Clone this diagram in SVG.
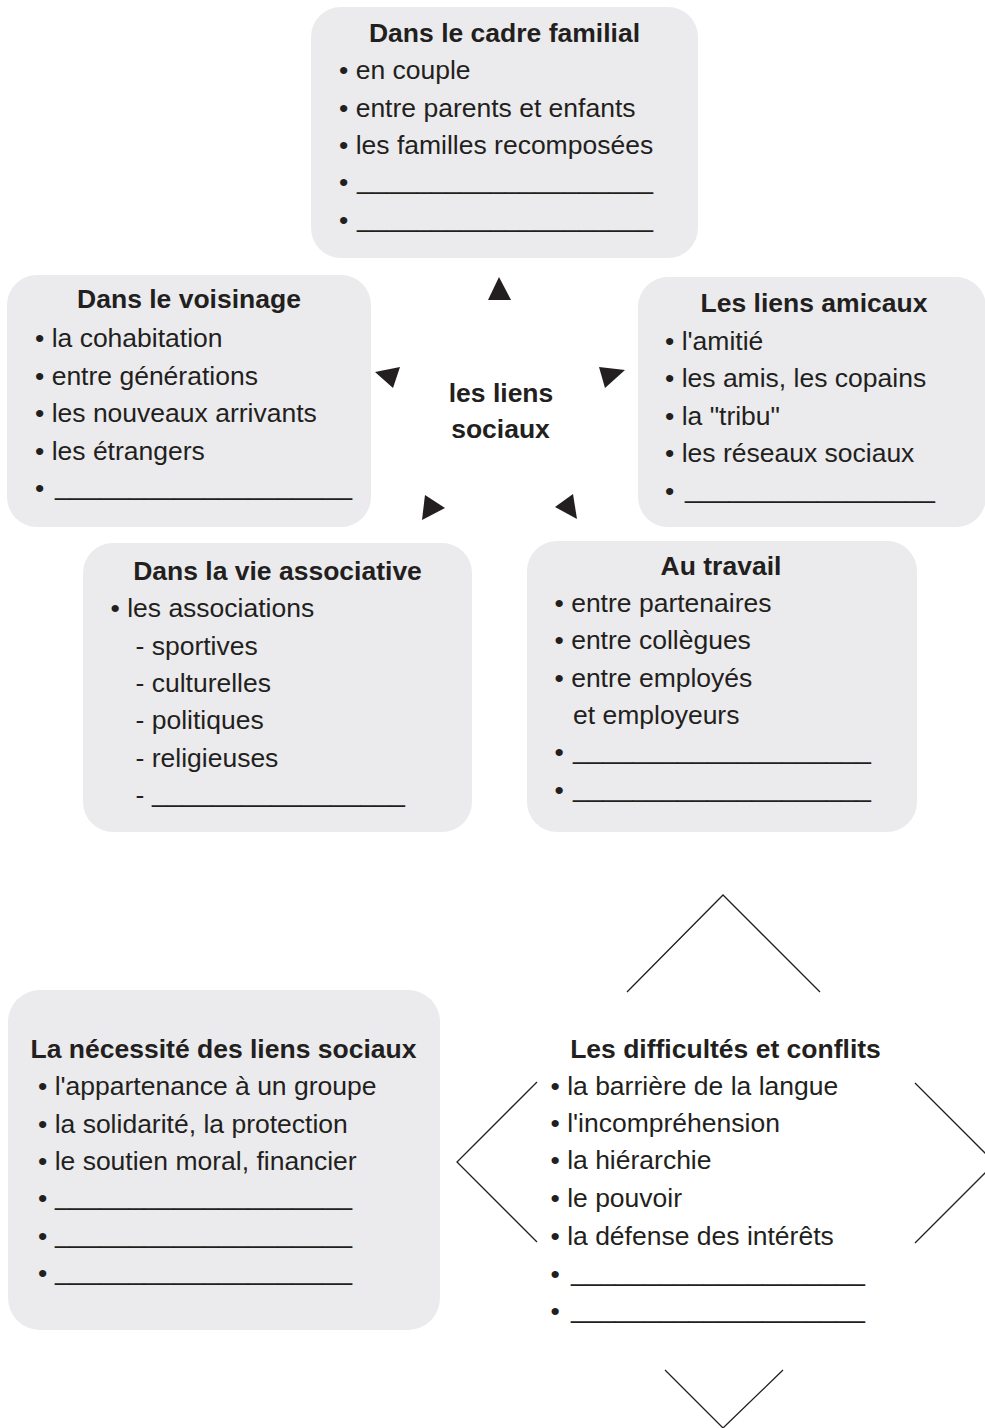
<svg xmlns="http://www.w3.org/2000/svg" width="985" height="1428" viewBox="0 0 985 1428">
<style>
.box{fill:#ebebed;stroke:none}
text{font-family:"Liberation Sans",Arial,Helvetica,sans-serif;font-size:26.5px;fill:#231f20}
.t{font-weight:bold;text-anchor:middle}
.c{font-weight:bold;text-anchor:middle}
.ln{fill:none;stroke:#231f20;stroke-width:1.3}
.ar{fill:#231f20}
</style>
<rect width="985" height="1428" fill="#ffffff"/>

<g id="node-familial">
<rect class="box" x="311" y="7" width="387" height="251" rx="30" ry="30"/>
<text class="t" x="504.5" y="42">Dans le cadre familial</text>
<text x="339" y="79">• en couple</text>
<text x="339" y="116.5">• entre parents et enfants</text>
<text x="339" y="154">• les familles recomposées</text>
<text x="339" y="191">•</text>
<text x="357" y="189" textLength="296" lengthAdjust="spacingAndGlyphs">____________________</text>
<text x="339" y="229">•</text>
<text x="357" y="227" textLength="296" lengthAdjust="spacingAndGlyphs">____________________</text>
</g>

<g id="node-voisinage">
<rect class="box" x="7" y="275" width="364" height="252" rx="30" ry="30"/>
<text class="t" x="189" y="308">Dans le voisinage</text>
<text x="35" y="347">• la cohabitation</text>
<text x="35" y="385">• entre générations</text>
<text x="35" y="422">• les nouveaux arrivants</text>
<text x="35" y="460">• les étrangers</text>
<text x="35" y="497">•</text>
<text x="55" y="495" textLength="297" lengthAdjust="spacingAndGlyphs">____________________</text>
</g>

<g id="node-amicaux">
<rect class="box" x="638" y="277" width="348" height="250" rx="30" ry="30"/>
<text class="t" x="814" y="312">Les liens amicaux</text>
<text x="665" y="350">• l'amitié</text>
<text x="665" y="387">• les amis, les copains</text>
<text x="665" y="425">• la "tribu"</text>
<text x="665" y="462">• les réseaux sociaux</text>
<text x="665" y="500">•</text>
<text x="685" y="498" textLength="250" lengthAdjust="spacingAndGlyphs">_________________</text>
</g>

<g id="node-associative">
<rect class="box" x="83" y="543" width="389" height="289" rx="30" ry="30"/>
<text class="t" x="277.5" y="580">Dans la vie associative</text>
<text x="110.5" y="617">• les associations</text>
<text x="135.5" y="655">- sportives</text>
<text x="135.5" y="692">- culturelles</text>
<text x="135.5" y="729">- politiques</text>
<text x="135.5" y="767">- religieuses</text>
<text x="135.5" y="804">-</text>
<text x="152" y="802" textLength="253" lengthAdjust="spacingAndGlyphs">_________________</text>
</g>

<g id="node-travail">
<rect class="box" x="527" y="541" width="390" height="291" rx="30" ry="30"/>
<text class="t" x="721" y="575">Au travail</text>
<text x="554.5" y="612">• entre partenaires</text>
<text x="554.5" y="649">• entre collègues</text>
<text x="554.5" y="687">• entre employés</text>
<text x="573" y="724">et employeurs</text>
<text x="554.5" y="761">•</text>
<text x="573" y="759" textLength="298" lengthAdjust="spacingAndGlyphs">____________________</text>
<text x="554.5" y="799">•</text>
<text x="573" y="797" textLength="298" lengthAdjust="spacingAndGlyphs">____________________</text>
</g>

<g id="node-centre">
<text class="c" x="501" y="402">les liens</text>
<text class="c" x="500.5" y="438">sociaux</text>
</g>

<g id="node-necessite">
<rect class="box" x="8" y="990" width="432" height="340" rx="32" ry="32"/>
<text class="t" x="223.5" y="1058">La nécessité des liens sociaux</text>
<text x="38" y="1095">• l'appartenance à un groupe</text>
<text x="38" y="1133">• la solidarité, la protection</text>
<text x="38" y="1170">• le soutien moral, financier</text>
<text x="38" y="1207">•</text>
<text x="55" y="1205" textLength="297" lengthAdjust="spacingAndGlyphs">____________________</text>
<text x="38" y="1245">•</text>
<text x="55" y="1243" textLength="297" lengthAdjust="spacingAndGlyphs">____________________</text>
<text x="38" y="1282">•</text>
<text x="55" y="1280" textLength="297" lengthAdjust="spacingAndGlyphs">____________________</text>
</g>

<g id="node-difficultes">
<polyline class="ln" points="627,992 723,895 820,992"/>
<polyline class="ln" points="537,1082 457,1162 537,1242"/>
<polyline class="ln" points="915,1083 995,1163 915,1243"/>
<polyline class="ln" points="665,1370 723,1428 783,1370"/>
<text class="t" x="725.5" y="1058">Les difficultés et conflits</text>
<text x="550.5" y="1095">• la barrière de la langue</text>
<text x="550.5" y="1132">• l'incompréhension</text>
<text x="550.5" y="1169">• la hiérarchie</text>
<text x="550.5" y="1207">• le pouvoir</text>
<text x="550.5" y="1245">• la défense des intérêts</text>
<text x="550.5" y="1283">•</text>
<text x="571" y="1281" textLength="294" lengthAdjust="spacingAndGlyphs">____________________</text>
<text x="550.5" y="1320">•</text>
<text x="571" y="1318" textLength="294" lengthAdjust="spacingAndGlyphs">____________________</text>
</g>

<g id="connectors">
<polygon class="ar" points="499,277 488,300 511,300"/>
<polygon class="ar" points="375,372 400,367 393,388"/>
<polygon class="ar" points="625,370 599,367 605,388"/>
<polygon class="ar" points="445,508 425,495 422,520"/>
<polygon class="ar" points="555,507 573,494 577,519"/>
</g>
</svg>
